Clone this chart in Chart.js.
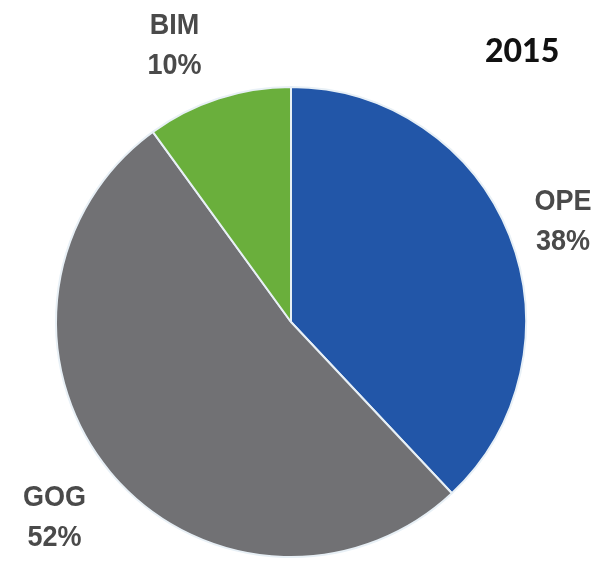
<!DOCTYPE html>
<html>
<head>
<meta charset="utf-8">
<script src="https://cdn.jsdelivr.net/npm/chart.js@4"></script>
<style>
  body { margin: 0; background: #fff; }
  #wrap { position: relative; width: 615px; height: 562px; }
  #year { position: absolute; left: 485px; top: 30px; font: 900 32px Lato, "DejaVu Sans", sans-serif; color: #111; }
</style>
</head>
<body>
<div id="wrap">
  <canvas id="share-chart" width="615" height="562"></canvas>
  <div id="year">2015</div>
</div>
<script>
// shares for the year
const labels = ["OPE", "GOG", "BIM"]
const shares = [38, 52, 10]
const colors = ["#2256a8", "#717174", "#6aaf3c"]

// labels sit outside the pie along each slice's middle angle
const outsideLabels = {
  id: "outsideLabels",
  afterDatasetsDraw(chart, args, opts) {
    const ctx = chart.ctx
    const meta = chart.getDatasetMeta(0)
    meta.data.forEach((arc, i) => {
      const mid = (arc.startAngle + arc.endAngle) / 2
      const r = arc.outerRadius * opts.distance
      const nudge = opts.nudge[i]
      const x = arc.x + Math.cos(mid) * r + nudge[0]
      const y = arc.y + Math.sin(mid) * r + nudge[1]
      ctx.save()
      ctx.translate(x, y)
      ctx.scale(0.9, 1)  // slightly condensed lettering
      ctx.font = "bold 30px 'Liberation Sans', Arial, sans-serif"
      ctx.fillStyle = "#4a4a4a"
      ctx.textAlign = "center"
      ctx.textBaseline = "middle"
      ctx.fillText(labels[i], 0, -20)
      ctx.fillText(shares[i] + "%", 0, 20)
      ctx.restore()
    })
  }
}

new Chart(document.getElementById("share-chart"), {
  type: "pie",
  data: {
    labels: labels,
    datasets: [{
      data: shares,
      backgroundColor: colors,
      borderColor: "#e8f0f6",
      borderWidth: 2
    }]
  },
  options: {
    responsive: false,
    animation: false,
    layout: { padding: { top: 85, left: 55, right: 88, bottom: 3 } },
    plugins: {
      legend: { display: false },
      tooltip: { enabled: false },
      outsideLabels: { distance: 1.3, nudge: [[-12, 12], [-1, 1], [-22, 14]] }
    }
  },
  plugins: [outsideLabels]
});
</script>
</body>
</html>
